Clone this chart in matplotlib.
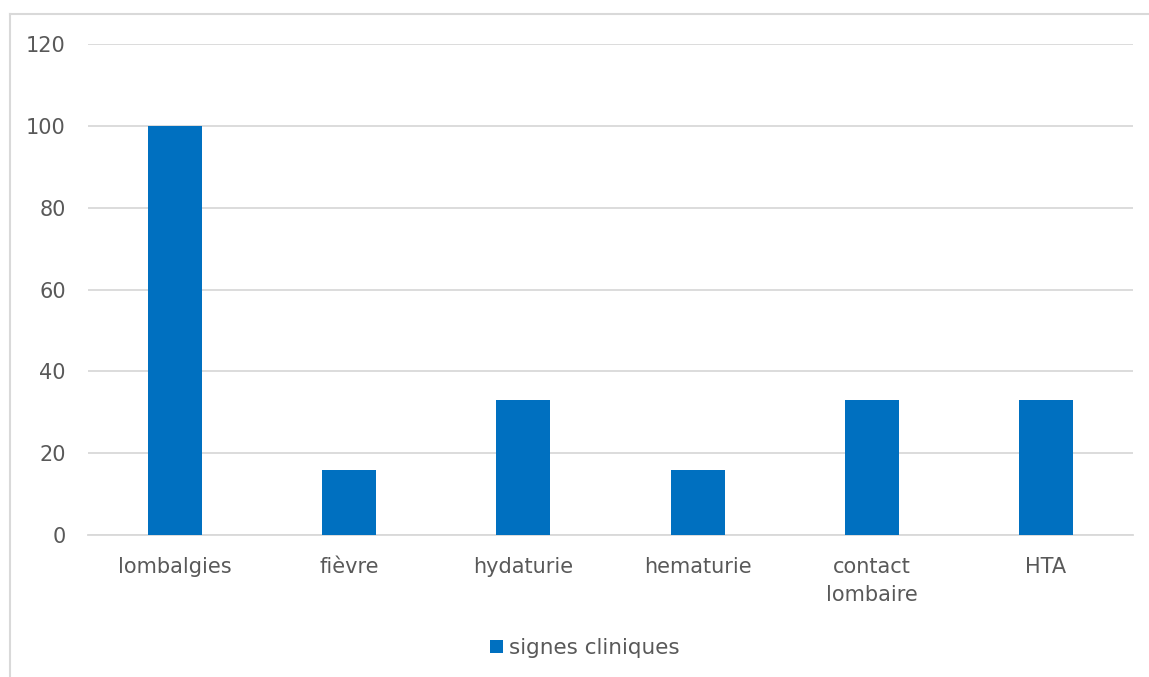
import matplotlib.pyplot as plt
from matplotlib.lines import Line2D

categories = ['lombalgies', 'fièvre', 'hydaturie', 'hematurie', 'contact\nlombaire', 'HTA']
values = [100, 16, 33, 16, 33, 33]
series_name = 'signes cliniques'

bar_color = '#0070C0'
text_color = '#595959'
grid_color = '#D9D9D9'

plt.rcParams['font.family'] = ['DejaVu Sans']

fig = plt.figure(figsize=(11.49, 6.77), dpi=100)
ax = fig.add_axes([88 / 1149, 1 - 535 / 677, (1133 - 88) / 1149, (535 - 44) / 677])

x = range(len(categories))
ax.bar(x, values, width=0.31, color=bar_color, label=series_name, zorder=3)

ax.set_xlim(-0.5, len(categories) - 0.5)
ax.set_ylim(0, 120)
ax.set_yticks(range(0, 121, 20))
ax.set_xticks(list(x))
ax.set_xticklabels(categories, linespacing=1.5)
ax.yaxis.grid(True, color=grid_color, linewidth=1.3, zorder=0)
ax.tick_params(axis='both', length=0, labelsize=15, colors=text_color)
ax.tick_params(axis='y', pad=16)
ax.tick_params(axis='x', pad=16)
for side in ['top', 'right', 'left']:
    ax.spines[side].set_visible(False)
ax.spines['bottom'].set_color(grid_color)
ax.spines['bottom'].set_linewidth(1.3)

leg = fig.legend(loc='center', bbox_to_anchor=(585 / 1149, 1 - 648 / 677), frameon=False,
                 fontsize=15.5, handlelength=0.6, handleheight=0.6, handletextpad=0.3)
for t in leg.get_texts():
    t.set_color(text_color)

# chart frame (cropped on right and bottom)
top = 1 - 14 / 677
left = 10 / 1149
fig.add_artist(Line2D([left, 1.0], [top, top], transform=fig.transFigure,
                      color=grid_color, linewidth=1.5))
fig.add_artist(Line2D([left, left], [0, top], transform=fig.transFigure,
                      color=grid_color, linewidth=1.5))

fig.savefig('out.png', dpi=100)
